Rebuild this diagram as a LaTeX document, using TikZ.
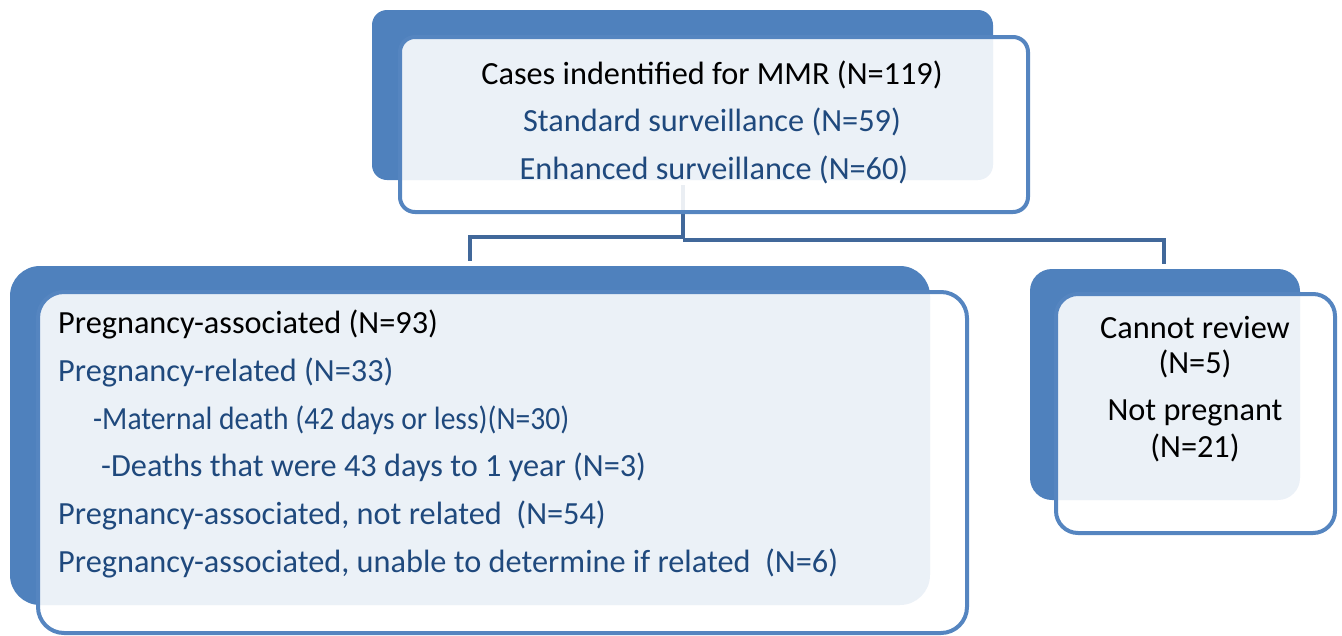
\documentclass[tikz,border=0pt]{standalone}
\usepackage{fontspec}
\usepackage{graphicx}
\setmainfont{Carlito}
\definecolor{backblue}{HTML}{4F81BD}
\definecolor{edgeblue}{HTML}{5585C0}
\definecolor{linkblue}{HTML}{41689A}
\definecolor{txtblue}{HTML}{1F497D}
\tikzset{
  backbox/.style={fill=backblue, draw=none, inner sep=0pt, outer sep=0pt},
  frontbox/.style={fill=white, fill opacity=0.89, draw=edgeblue, line width=4pt, inner sep=0pt, outer sep=0pt},
  conn/.style={draw=linkblue, line width=4.5pt},
  lbl/.style={inner sep=0pt, font=\fontsize{32.3}{36}\selectfont},
  blk/.style={lbl, text=black},
  blu/.style={lbl, text=txtblue},
}
\begin{document}
\begin{tikzpicture}[x=1pt,y=-1pt]
\useasboundingbox (0,0) rectangle (1342,635);
% connectors (behind boxes)
\coordinate (c0) at (683,185);
\coordinate (cm) at (683,239);
\coordinate (cl) at (470,261);
\coordinate (cr) at (1164,264);
\draw[conn] (c0) -- (cm);
\draw[conn] (683,237) -| (cl);
\draw[conn] (683,240) -| (cr);
% top group
\node[backbox, rounded corners=15pt, minimum width=621pt, minimum height=170pt] (topback) at (682.5,95) {};
\node[frontbox, rounded corners=15pt, minimum width=628pt, minimum height=175pt] (topfront) at (714,124.5) {};
% left group
\node[backbox, rounded corners=30pt, minimum width=920pt, minimum height=339pt] (leftback) at (470,435.5) {};
\node[frontbox, rounded corners=26pt, minimum width=929pt, minimum height=341pt] (leftfront) at (502.5,462.5) {};
% right group
\node[backbox, rounded corners=22pt, minimum width=270pt, minimum height=231pt] (rightback) at (1165,384.5) {};
\node[frontbox, rounded corners=22pt, minimum width=279pt, minimum height=239pt] (rightfront) at (1195.5,413.5) {};
% top texts
\node[blk] (t1) at (712,75) {Cases indentified for MMR (N=119)};
\node[blu] (t2) at (712,122) {Standard surveillance (N=59)};
\node[blu] (t3) at (714,170) {Enhanced surveillance (N=60)};
% left texts
\node[blk, anchor=west] (l1) at (58,324) {Pregnancy-associated (N=93)};
\node[blu, anchor=west] (l2) at (58,372) {Pregnancy-related (N=33)};
\node[blu, anchor=west] (l3) at (93,420) {\scalebox{0.915}[1]{-Maternal death (42 days or less)(N=30)}};
\node[blu, anchor=west] (l4) at (101,467) {-Deaths that were 43 days to 1 year (N=3)};
\node[blu, anchor=west] (l5) at (58,515) {Pregnancy-associated, not related\ \ (N=54)};
\node[blu, anchor=west] (l6) at (58,563) {Pregnancy-associated, unable to determine if related\ \ (N=6)};
% right texts
\node[blk] (r1) at (1195,328) {Cannot review};
\node[blk] (r2) at (1195,364) {(N=5)};
\node[blk] (r3) at (1195,413) {Not pregnant};
\node[blk] (r4) at (1195,448) {(N=21)};
\end{tikzpicture}
\end{document}
